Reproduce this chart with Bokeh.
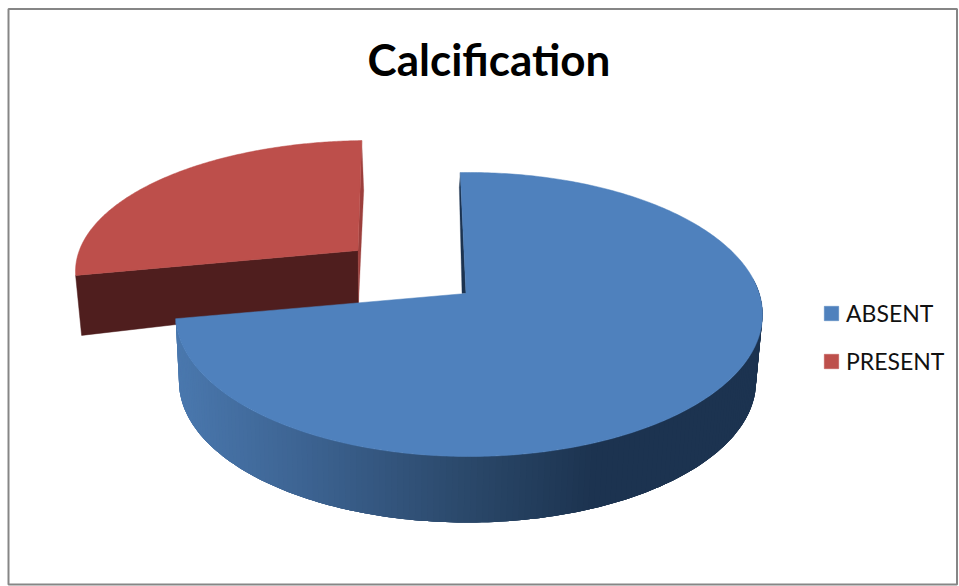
import numpy as np
from bokeh.plotting import figure
from bokeh.embed import file_html
from bokeh.resources import INLINE
from bokeh.core.properties import value
from bokeh.models import Legend, LegendItem

TITLE = "Calcification"
categories = ["ABSENT", "PRESENT"]
values = [75, 25]
top_colors = ["#4f81bd", "#bd4f4b"]

FONT = "Lato"
W, H = 959, 586
ROTATION = -1.7   # degrees of first slice start, clockwise from the top

p = figure(width=W, height=H, x_range=(0, W), y_range=(H, 0),
           output_backend="svg", toolbar_location=None,
           x_axis_location=None, y_axis_location=None, min_border=0,
           outline_line_color=None)
p.grid.visible = False

fractions = np.array(values, dtype=float) / sum(values)
edges = np.radians(ROTATION + 360 * np.concatenate([[0], np.cumsum(fractions)]))


def rim(c, r, a0, a1, n=200):
    t = np.linspace(a0, a1, n)
    return c[0] + r[0] * np.sin(t), c[1] - r[1] * np.cos(t)


# ellipse geometry in page pixels (layout, not data)
blue_top_c, blue_top_r = (468.5, 314), (293.5, 142)
blue_low_c, blue_low_r = (467, 381), (288.5, 141)
blue_apex = (465.5, 293)
red_top_c, red_top_r = (370, 271), (295, 131)
red_apex = (357.5, 250)
red_apex_low = (358, 303)

# ---- frame
p.quad(left=8, right=956.5, top=8.5, bottom=584, fill_color=None,
       line_color="#868686", line_width=2)

# ---- exploded PRESENT slice
rx, ry = rim(red_top_c, red_top_r, edges[1], edges[2])
p.patch([rx[0], red_apex[0], red_apex_low[0], rx[0] + 6],
        [ry[0], red_apex[1], red_apex_low[1], ry[0] + 60],
        fill_color="#4f1e1e", line_color="#4f1e1e", line_width=0.5)
p.patch([rx[-1], rx[-1] + 2, red_apex_low[0], red_apex[0]],
        [ry[-1], ry[-1] + 50, red_apex_low[1], red_apex[1]],
        fill_color="#9c3f3c", line_color="#9c3f3c", line_width=0.3)
red_r = p.patch(np.r_[red_apex[0], rx], np.r_[red_apex[1], ry],
                fill_color=top_colors[1], line_color=top_colors[1], line_width=0.5)

# ---- ABSENT slice: rounded wall with horizontal shading
stops_x = [178, 300, 470, 590, 770]
stops_rgb = np.array([[0x4a, 0x78, 0xae], [0x3d, 0x64, 0x93], [0x2a, 0x47, 0x69],
                      [0x1c, 0x33, 0x50], [0x1c, 0x33, 0x50]], dtype=float)


def shade(x):
    c = [np.interp(x, stops_x, stops_rgb[:, k]) for k in range(3)]
    return "#%02x%02x%02x" % tuple(int(round(v)) for v in c)


wall_t = np.linspace(np.radians(75), edges[1], 160)
tx, ty = blue_top_c[0] + blue_top_r[0] * np.sin(wall_t), blue_top_c[1] - blue_top_r[1] * np.cos(wall_t)
lx, ly = blue_low_c[0] + blue_low_r[0] * np.sin(wall_t), blue_low_c[1] - blue_low_r[1] * np.cos(wall_t)
xs, ys, cols = [], [], []
for i in range(len(wall_t) - 1):
    j = min(i + 4, len(wall_t) - 1)   # overlap the next strips so no seams show
    xs.append(np.r_[tx[i:j + 1], lx[i:j + 1][::-1]])
    ys.append(np.r_[ty[i:j + 1], ly[i:j + 1][::-1]])
    cols.append(shade((lx[i] + lx[i + 1]) / 2))
p.patches(xs, ys, fill_color=cols, line_color=None)

bx, by = rim(blue_top_c, blue_top_r, edges[0], edges[1], 400)
p.patch([bx[0], blue_apex[0], blue_apex[0] - 4, bx[0] - 1],
        [by[0], blue_apex[1], blue_apex[1], by[0] + 15],
        fill_color="#1c3350", line_color="#1c3350", line_width=0.3)
blue_r = p.patch(np.r_[blue_apex[0], bx], np.r_[blue_apex[1], by],
                 fill_color=top_colors[0], line_color=top_colors[0], line_width=0.5)

# ---- title
p.text(x=[488.5], y=[58], text=[TITLE], text_font=value(FONT), text_font_style="bold",
       text_font_size="44px", text_align="center", text_baseline="middle",
       text_color="#000000")

# ---- legend
legend = Legend(items=[LegendItem(label=categories[0], renderers=[blue_r]),
                       LegendItem(label=categories[1], renderers=[red_r])],
                location=(822, 211), orientation="vertical",
                border_line_color=None, background_fill_alpha=0,
                glyph_width=18, glyph_height=18, label_standoff=6,
                label_text_font=FONT, label_text_font_size="23px",
                label_text_color="#111111", label_height=15, spacing=20,
                padding=0, margin=0)
p.add_layout(legend, "center")

open("out.html", "w").write(file_html(p, INLINE))
